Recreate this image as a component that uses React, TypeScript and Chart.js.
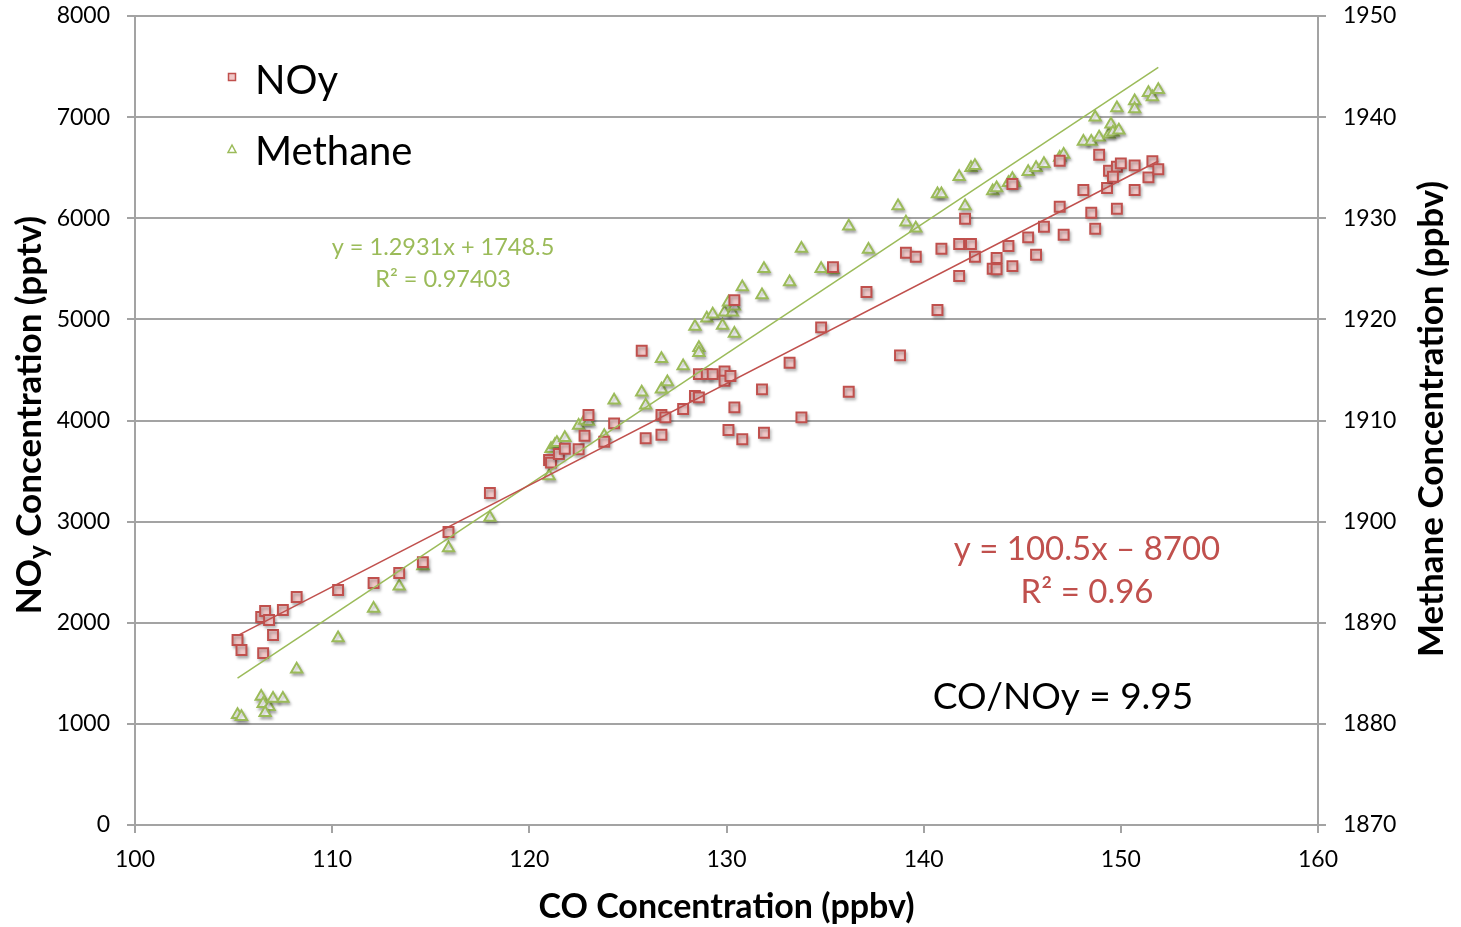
import React, { useEffect, useRef } from "react";
import { Chart, registerables } from "chart.js";

Chart.register(...registerables);

const FONT = "Lato, 'Open Sans', sans-serif";

// NOy series (CO ppbv, NOy pptv)
const noyCO = [
  105.2, 105.4, 106.5, 107.0, 106.4, 106.6, 106.8, 107.5, 108.2, 110.3,
  112.1, 113.4, 114.6, 115.9, 118.0, 121.0, 121.1, 121.5, 121.8, 122.5,
  122.8, 123.0, 123.8, 124.3, 125.7, 125.9, 126.7, 126.7, 126.9, 127.8,
  128.4, 128.6, 128.6, 129.0, 129.3, 129.9, 129.9, 130.2, 130.1, 130.4,
  130.8, 131.8, 131.9, 133.2, 133.8, 134.8, 136.2, 138.8, 130.4, 135.4,
  137.1, 140.7, 139.1, 139.6, 140.9, 141.8, 142.4, 142.1, 142.6, 141.8,
  143.7, 143.5, 143.7, 144.5, 144.3, 145.3, 145.7, 146.1, 147.1, 146.9,
  148.1, 148.5, 148.7, 148.9, 149.3, 149.8, 150.7, 149.4, 149.8, 150.0,
  149.6, 150.7, 151.6, 151.4, 151.9, 144.5, 146.9,
];
const noyValues = [
  1829, 1730, 1700, 1879, 2057, 2116, 2027, 2126, 2254, 2324,
  2393, 2492, 2600, 2897, 3283, 3609, 3583, 3668, 3721, 3715,
  3849, 4054, 3790, 3972, 4690, 3824, 3859, 4054, 4031, 4113,
  4242, 4229, 4459, 4459, 4459, 4486, 4393, 4440, 3906, 4130,
  3814, 4308, 3879, 4571, 4031, 4921, 4285, 4644, 5190, 5517,
  5270, 5092, 5659, 5620, 5699, 5745, 5745, 5995, 5620, 5429,
  5607, 5501, 5495, 5527, 5725, 5811, 5639, 5916, 5837, 6114,
  6279, 6055, 5896, 6628, 6299, 6094, 6279, 6470, 6509, 6543,
  6410, 6523, 6563, 6404, 6484, 6338, 6569,
];

// Methane series (CO ppbv, CH4 ppbv)
const methaneCO = [
  105.2, 105.4, 106.4, 106.5, 106.8, 106.6, 107.0, 107.5, 108.2, 110.3,
  112.1, 113.4, 114.6, 115.9, 118.0, 121.0, 121.1, 121.3, 121.4, 121.8,
  122.5, 122.8, 123.0, 123.8, 124.3, 125.7, 125.9, 126.7, 126.7, 127.0,
  127.8, 128.4, 128.6, 128.6, 129.0, 129.3, 129.8, 129.9, 130.1, 130.3,
  130.4, 130.4, 130.8, 131.8, 131.9, 133.2, 133.8, 134.8, 135.4, 136.2,
  137.2, 138.7, 139.1, 139.6, 140.7, 140.9, 141.8, 142.1, 142.4, 142.6,
  143.5, 143.7, 144.3, 144.5, 144.6, 145.3, 145.7, 146.1, 146.9, 147.1,
  148.1, 148.5, 148.7, 148.9, 149.4, 149.5, 149.6, 149.9, 149.8, 150.7,
  150.7, 151.4, 151.6, 151.9,
];
const methaneValues = [
  1880.9, 1880.7, 1882.7, 1882.0, 1881.7, 1881.1, 1882.5, 1882.5, 1885.4, 1888.5,
  1891.4, 1893.6, 1895.6, 1897.4, 1900.4, 1904.5, 1907.2, 1907.6, 1907.8, 1908.3,
  1909.5, 1910.0, 1909.9, 1908.5, 1912.0, 1912.8, 1911.5, 1916.1, 1913.1, 1913.8,
  1915.4, 1919.3, 1917.2, 1916.7, 1920.1, 1920.5, 1919.4, 1920.7, 1921.7, 1920.7,
  1921.3, 1918.6, 1923.2, 1922.4, 1925.0, 1923.7, 1927.0, 1925.0, 1924.9, 1929.2,
  1926.9, 1931.2, 1929.6, 1929.0, 1932.4, 1932.4, 1934.1, 1931.2, 1935.0, 1935.2,
  1932.7, 1933.0, 1933.5, 1933.9, 1933.5, 1934.6, 1935.0, 1935.4, 1936.0, 1936.3,
  1937.6, 1937.6, 1940.0, 1938.0, 1938.3, 1939.3, 1938.5, 1938.7, 1940.9, 1941.6,
  1940.8, 1942.4, 1942.0, 1942.7,
];

// Trendlines as printed on the chart
const noyTrend = { slope: 100.5, intercept: -8700 };
const methaneTrend = { slope: 1.2931, intercept: 1748.5 };
const trendX = [105.2, 151.9];

const xTicks = { min: 100, max: 160, step: 10 };
const yTicks = { min: 0, max: 8000, step: 1000 };
const y2Ticks = { min: 1870, max: 1950, step: 10 };

const RED = "#c0504d";
const PINK = "#f0c8c8";
const GREEN = "#9bbb59";
const GRID = "#a3a3a3";

const overlayPlugin = {
  id: "overlay",
  beforeDatasetDraw(chart: any, args: any) {
    if (args.index < 2) {
      const ctx = chart.ctx;
      ctx.save();
      ctx.shadowColor = "rgba(0,0,0,0.28)";
      ctx.shadowBlur = 3;
      ctx.shadowOffsetX = 1.5;
      ctx.shadowOffsetY = 2.5;
    }
  },
  afterDatasetDraw(chart: any, args: any) {
    if (args.index < 2) chart.ctx.restore();
  },
  afterDraw(chart: any) {
    const ctx = chart.ctx as CanvasRenderingContext2D;
    const area = chart.chartArea;
    ctx.save();
    ctx.textBaseline = "middle";

    // X axis title
    ctx.fillStyle = "#000";
    ctx.font = `bold 34px ${FONT}`;
    ctx.textAlign = "center";
    ctx.fillText("CO Concentration (ppbv)", (area.left + area.right) / 2, 907);

    // Left axis title with subscript
    ctx.save();
    ctx.translate(30, 415);
    ctx.rotate(-Math.PI / 2);
    const big = `bold 35px ${FONT}`;
    const small = `bold 26px ${FONT}`;
    ctx.font = big;
    const w1 = ctx.measureText("NO").width;
    const w3 = ctx.measureText(" Concentration (pptv)").width;
    ctx.font = small;
    const w2 = ctx.measureText("y").width;
    const x0 = -(w1 + w2 + w3) / 2;
    ctx.textAlign = "left";
    ctx.font = big;
    ctx.fillText("NO", x0, 0);
    ctx.font = small;
    ctx.fillText("y", x0 + w1, 9);
    ctx.font = big;
    ctx.fillText(" Concentration (pptv)", x0 + w1 + w2, 0);
    ctx.restore();

    // Right axis title
    ctx.save();
    ctx.translate(1432, 419);
    ctx.rotate(-Math.PI / 2);
    ctx.font = big;
    ctx.textAlign = "center";
    ctx.fillText("Methane Concentration (ppbv)", 0, 0);
    ctx.restore();

    // Legend
    ctx.lineWidth = 1.5;
    ctx.fillStyle = PINK;
    ctx.strokeStyle = RED;
    ctx.fillRect(228.5, 73.5, 7, 7);
    ctx.strokeRect(228.5, 73.5, 7, 7);
    ctx.beginPath();
    ctx.moveTo(232, 145);
    ctx.lineTo(236, 152.5);
    ctx.lineTo(228, 152.5);
    ctx.closePath();
    ctx.fillStyle = "#fff";
    ctx.strokeStyle = GREEN;
    ctx.fill();
    ctx.stroke();
    ctx.fillStyle = "#000";
    ctx.font = `40px ${FONT}`;
    ctx.textAlign = "left";
    ctx.fillText("NOy", 255, 81);
    ctx.fillText("Methane", 255, 152);

    // Annotations
    ctx.textAlign = "center";
    ctx.fillStyle = GREEN;
    ctx.font = `23.5px ${FONT}`;
    ctx.fillText("y = 1.2931x + 1748.5", 443, 247);
    ctx.fillText("R² = 0.97403", 443, 279);

    ctx.fillStyle = RED;
    ctx.font = `33px ${FONT}`;
    ctx.fillText("y = 100.5x – 8700", 1087, 549);
    ctx.fillText("R² = 0.96", 1087, 592);

    ctx.fillStyle = "#000";
    ctx.font = `37px ${FONT}`;
    ctx.fillText("CO/NOy = 9.95", 1063, 697);
    ctx.restore();
  },
};

export default function App() {
  const ref = useRef<HTMLCanvasElement | null>(null);

  useEffect(() => {
    document.body.style.margin = "0";
    const canvas = ref.current;
    if (!canvas) return;

    const noyPoints = noyCO.map((x, i) => ({ x, y: noyValues[i] }));
    const methanePoints = methaneCO.map((x, i) => ({ x, y: methaneValues[i] }));
    const noyLine = trendX.map((x) => ({ x, y: noyTrend.slope * x + noyTrend.intercept }));
    const methaneLine = trendX.map((x) => ({ x, y: methaneTrend.slope * x + methaneTrend.intercept }));

    const tickFont = { family: FONT, size: 23 };

    const chart = new Chart(canvas, {
      type: "scatter",
      data: {
        datasets: [
          {
            label: "NOy",
            data: noyPoints,
            yAxisID: "y",
            pointStyle: "rect",
            pointRadius: 7,
            pointBorderWidth: 2,
            backgroundColor: PINK,
            borderColor: RED,
            order: 2,
          },
          {
            label: "Methane",
            data: methanePoints,
            yAxisID: "y2",
            pointStyle: "triangle",
            pointRadius: 6.5,
            pointBorderWidth: 2,
            backgroundColor: "#ffffff",
            borderColor: GREEN,
            order: 3,
          },
          {
            label: "NOy trend",
            data: noyLine,
            yAxisID: "y",
            showLine: true,
            pointRadius: 0,
            borderColor: RED,
            borderWidth: 1.5,
            order: 0,
          },
          {
            label: "Methane trend",
            data: methaneLine,
            yAxisID: "y2",
            showLine: true,
            pointRadius: 0,
            borderColor: GREEN,
            borderWidth: 1.5,
            order: 1,
          },
        ],
      },
      options: {
        animation: false,
        responsive: false,
        events: [],
        layout: { padding: { top: 16, left: 0, right: 0, bottom: 0 } },
        plugins: {
          legend: { display: false },
          tooltip: { enabled: false },
        },
        scales: {
          x: {
            type: "linear",
            min: xTicks.min,
            max: xTicks.max,
            ticks: { stepSize: xTicks.step, font: tickFont, color: "#000", padding: 13 },
            grid: { drawOnChartArea: false, tickLength: 8, color: GRID, lineWidth: 2 },
            border: { color: GRID, width: 2 },
            afterFit: (s: any) => {
              s.height = 102;
              s.paddingLeft = 0;
              s.paddingRight = 0;
            },
          },
          y: {
            position: "left",
            min: yTicks.min,
            max: yTicks.max,
            ticks: {
              stepSize: yTicks.step,
              font: tickFont,
              color: "#000",
              padding: 17,
              callback: (v: any) => String(v),
            },
            grid: { color: GRID, lineWidth: 2, tickLength: 8 },
            border: { color: GRID, width: 2 },
            afterFit: (s: any) => {
              s.width = 135;
              s.paddingTop = 0;
              s.paddingBottom = 0;
            },
          },
          y2: {
            position: "right",
            min: y2Ticks.min,
            max: y2Ticks.max,
            ticks: {
              stepSize: y2Ticks.step,
              font: tickFont,
              color: "#000",
              padding: 17,
              callback: (v: any) => String(v),
            },
            grid: { drawOnChartArea: false, tickLength: 8, color: GRID, lineWidth: 2 },
            border: { color: GRID, width: 2 },
            afterFit: (s: any) => {
              s.width = 143;
              s.paddingTop = 0;
              s.paddingBottom = 0;
            },
          },
        },
      } as any,
      plugins: [overlayPlugin],
    });

    return () => chart.destroy();
  }, []);

  return (
    <canvas
      ref={ref}
      width={1461}
      height={927}
      style={{ display: "block", width: 1461, height: 927 }}
    />
  );
}
